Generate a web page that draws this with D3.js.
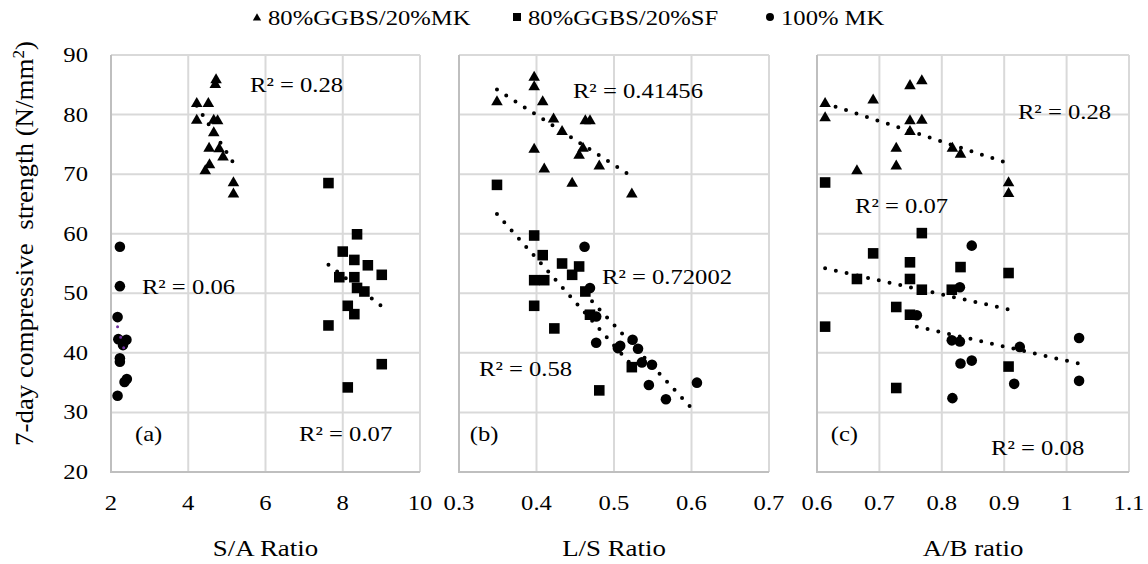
<!DOCTYPE html>
<html>
<head>
<meta charset="utf-8">
<script src="https://cdn.jsdelivr.net/npm/d3@7"></script>
<style>
  body { margin: 0; background: #fff; }
  text { font-family: "Liberation Serif", "Times New Roman", serif; fill: #000; }
</style>
</head>
<body>
<svg id="chart" width="1148" height="564"></svg>
<script>
// ---- data ----
const seriesNames = ["80%GGBS/20%MK", "80%GGBS/20%SF", "100% MK"];
const yTicks = [20, 30, 40, 50, 60, 70, 80, 90];
const saTicks = [2, 4, 6, 8, 10];
const lsTicks = [0.3, 0.4, 0.5, 0.6, 0.7];
const abTicks = [0.6, 0.7, 0.8, 0.9, 1, 1.1];
const axisTitles = ["S/A Ratio", "L/S Ratio", "A/B ratio"];
const panelTags = ["(a)", "(b)", "(c)"];

// panel (a): S/A ratio vs strength
const saGMK = [[4.72,86.0],[4.70,85.2],[4.22,82.0],[4.52,82.0],[4.22,79.2],[4.66,79.2],[4.76,79.1],[4.66,77.1],
  [4.54,74.5],[4.80,74.4],[4.90,73.0],[4.55,71.7],[4.44,70.7],[5.17,68.7],[5.17,66.8]];
const saGSF = [[7.63,68.5],[8.37,59.9],[8.00,57.0],[8.30,55.6],[8.65,54.7],[9.01,53.1],[7.91,52.7],[8.30,52.7],
  [8.37,50.9],[8.56,50.3],[8.13,47.9],[8.30,46.5],[7.63,44.6],[9.01,38.1],[8.13,34.2]];
const saMK = [[2.23,57.8],[2.23,51.2],[2.17,46.0],[2.19,42.3],[2.40,42.2],[2.31,41.3],[2.23,39.1],[2.23,38.5],
  [2.41,35.6],[2.35,35.1],[2.17,32.8]];
const saTrendGMK = [[4.22,81.5],[5.17,71.9]];
const saTrendGSF = [[7.63,54.8],[9.01,47.8]];
const saTrendMK = [[2.17,44.4],[2.34,40.6]];
const saR2 = ["R² = 0.28", "R² = 0.06", "R² = 0.07"];

// panel (b): L/S ratio vs strength
const lsGMK = [[0.397,86.4],[0.397,84.8],[0.349,82.3],[0.408,82.3],[0.422,79.4],[0.463,79.1],[0.469,79.1],[0.433,77.3],
  [0.397,74.3],[0.460,74.5],[0.455,73.3],[0.410,71.0],[0.481,71.5],[0.446,68.6],[0.523,66.8]];
const lsGSF = [[0.349,68.2],[0.397,59.7],[0.408,56.4],[0.433,55.0],[0.455,54.5],[0.446,53.1],[0.397,52.2],[0.410,52.2],
  [0.463,50.3],[0.397,47.9],[0.469,46.4],[0.423,44.1],[0.523,37.6],[0.481,33.7]];
const lsMK = [[0.462,57.8],[0.469,50.9],[0.477,46.1],[0.524,42.2],[0.477,41.7],[0.508,41.2],[0.505,40.8],[0.531,40.7],
  [0.536,38.4],[0.549,38.0],[0.607,35.0],[0.545,34.6],[0.567,32.2]];
const lsTrendGMK = [[0.349,84.2],[0.521,69.8]];
const lsTrendGSF = [[0.349,63.3],[0.523,37.9]];
const lsTrendMK = [[0.462,50.0],[0.601,30.6]];
const lsR2 = ["R² = 0.41456", "R² = 0.72002", "R² = 0.58"];

// panel (c): A/B ratio vs strength
const abGMK = [[0.613,82.0],[0.613,79.6],[0.690,82.6],[0.749,85.0],[0.768,85.8],[0.749,79.1],[0.768,79.2],[0.749,77.3],
  [0.727,74.5],[0.727,71.5],[0.664,70.7],[0.817,74.5],[0.830,73.5],[0.907,68.7],[0.907,66.9]];
const abGSF = [[0.613,68.6],[0.768,60.1],[0.690,56.7],[0.749,55.2],[0.830,54.4],[0.907,53.4],[0.664,52.4],[0.749,52.4],
  [0.768,50.6],[0.816,50.6],[0.727,47.7],[0.749,46.4],[0.613,44.4],[0.907,37.7],[0.727,34.1]];
const abMK = [[0.848,58.0],[0.829,51.0],[0.760,46.3],[1.020,42.5],[0.816,42.1],[0.829,41.9],[0.925,41.0],[0.848,38.7],
  [0.830,38.2],[1.020,35.3],[0.916,34.8],[0.817,32.4]];
const abTrendGMK = [[0.613,81.9],[0.907,71.8]];
const abTrendGSF = [[0.613,54.2],[0.907,47.3]];
const abTrendMK = [[0.760,44.4],[1.020,38.2]];
const abR2 = ["R² = 0.28", "R² = 0.07", "R² = 0.08"];

// ---- layout ----
const plotTop = 55, plotBottom = 472;
const stretch = 1.12;   // picture text is a bit wide
const gridColor = "#d9d9d9";

const svg = d3.select("#chart");
const y = d3.scaleLinear().domain([20, 90]).range([plotBottom, plotTop]);

const symTri = d3.symbol().type(d3.symbolTriangle).size(58);
const symSq = d3.symbol().type(d3.symbolSquare).size(112);
const symCirc = d3.symbol().type(d3.symbolCircle).size(88);

function addText(parent, x, yy, str, anchor = "start", size = 22) {
  return parent.append("text")
    .attr("transform", `translate(${x},${yy}) scale(${stretch},1)`)
    .attr("text-anchor", anchor)
    .attr("font-size", size)
    .text(str);
}

const panels = [
  { range: [111, 420], ticks: saTicks, series: [saGMK, saGSF, saMK],
    trends: [saTrendGMK, saTrendGSF, saTrendMK], trendColors: ["#000", "#000", "#7030a0"],
    r2: saR2, r2Pos: [[5.6, 83.8], [2.8, 49.9], [6.87, 25.2]], tagPos: [2.62, 25.2] },
  { range: [459, 769], ticks: lsTicks, series: [lsGMK, lsGSF, lsMK],
    trends: [lsTrendGMK, lsTrendGSF, lsTrendMK], trendColors: ["#000", "#000", "#000"],
    r2: lsR2, r2Pos: [[0.447, 82.8], [0.4845, 51.6], [0.3258, 36.1]], tagPos: [0.314, 25.2] },
  { range: [817, 1129], ticks: abTicks, series: [abGMK, abGSF, abMK],
    trends: [abTrendGMK, abTrendGSF, abTrendMK], trendColors: ["#000", "#000", "#000"],
    r2: abR2, r2Pos: [[0.922, 79.3], [0.661, 63.5], [0.879, 22.9]], tagPos: [0.622, 25.2] }
];

const symbols = [symTri, symSq, symCirc];

panels.forEach((p, i) => {
  const x = d3.scaleLinear().domain(d3.extent(p.ticks)).range(p.range);
  const g = svg.append("g");

  // grid
  g.selectAll(".gx").data(p.ticks).join("line")
    .attr("x1", d => x(d)).attr("x2", d => x(d))
    .attr("y1", plotTop).attr("y2", plotBottom)
    .attr("stroke", gridColor).attr("stroke-width", 2);
  g.selectAll(".gy").data(yTicks).join("line")
    .attr("x1", p.range[0]).attr("x2", p.range[1])
    .attr("y1", d => y(d)).attr("y2", d => y(d))
    .attr("stroke", gridColor).attr("stroke-width", 2);
  // axis lines
  g.append("line").attr("x1", p.range[0]).attr("x2", p.range[0])
    .attr("y1", plotTop).attr("y2", plotBottom + 1)
    .attr("stroke", "#bfbfbf").attr("stroke-width", 2);
  g.append("line").attr("x1", p.range[0]).attr("x2", p.range[1])
    .attr("y1", plotBottom).attr("y2", plotBottom)
    .attr("stroke", "#bfbfbf").attr("stroke-width", 2);

  // x tick labels
  p.ticks.forEach(t => addText(g, x(t), 510, String(t), "middle"));
  addText(g, (p.range[0] + p.range[1]) / 2, 556, axisTitles[i], "middle", 24);

  // points
  p.series.forEach((s, k) => {
    g.selectAll(null).data(s).join("path")
      .attr("d", symbols[k])
      .attr("transform", d => `translate(${x(d[0])},${y(d[1]) + (k === 0 ? 1 : 0)})`)
      .attr("fill", "#000");
  });

  // trend lines (dotted)
  const line = d3.line().x(d => x(d[0])).y(d => y(d[1]));
  p.trends.forEach((t, k) => {
    g.append("path")
      .attr("d", line(t))
      .attr("fill", "none")
      .attr("stroke", p.trendColors[k])
      .attr("stroke-width", k === 2 && i === 0 ? 3 : 4)
      .attr("stroke-linecap", "round")
      .attr("stroke-dasharray", "0,11");
  });

  // R² labels and panel tag
  p.r2.forEach((str, k) => addText(g, x(p.r2Pos[k][0]), y(p.r2Pos[k][1]), str));
  addText(g, x(p.tagPos[0]), y(p.tagPos[1]), panelTags[i]);
});

// y tick labels (left panel only)
yTicks.forEach(t => addText(svg, 88, y(t) + 7, String(t), "end"));

// y axis title
svg.append("text")
  .attr("transform", `translate(33,${(40 + 447) / 2}) rotate(-90) scale(1,${stretch})`)
  .attr("text-anchor", "middle")
  .attr("font-size", 22)
  .attr("textLength", 405)
  .attr("lengthAdjust", "spacingAndGlyphs")
  .html("7-day compressive&#160;&#160;strength (N/mm<tspan dy='-8' font-size='14'>2</tspan><tspan dy='8'>)</tspan>");

// legend
const legendX = [257, 517, 770];
const legendSyms = [
  d3.symbol().type(d3.symbolTriangle).size(30),
  d3.symbol().type(d3.symbolSquare).size(64),
  d3.symbol().type(d3.symbolCircle).size(50)
];
seriesNames.forEach((name, k) => {
  svg.append("path").attr("d", legendSyms[k])
    .attr("transform", `translate(${legendX[k]},${k === 0 ? 18 : 17})`)
    .attr("fill", "#000");
  addText(svg, legendX[k] + 11, 25, name);
});
</script>
</body>
</html>
